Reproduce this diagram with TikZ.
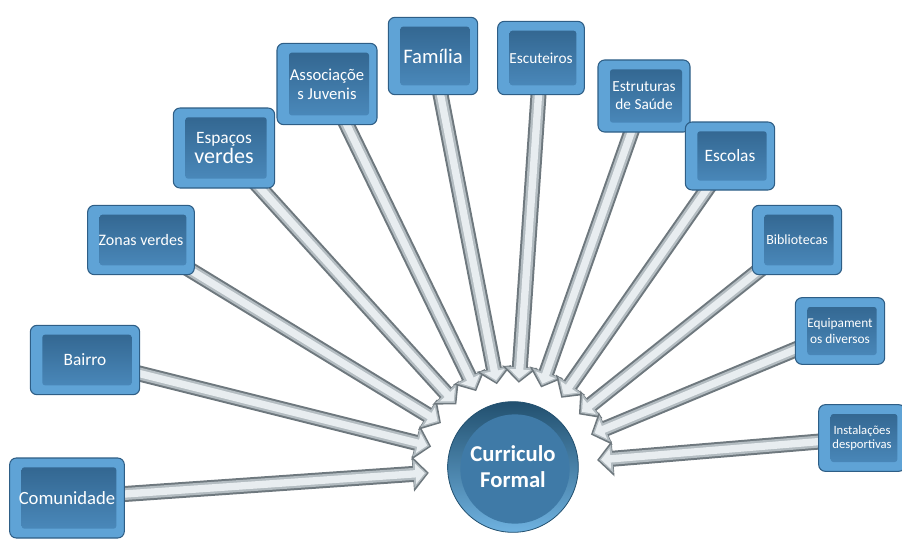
\documentclass[tikz,border=0pt]{standalone}
\usepackage{fontspec}
\setmainfont{Carlito}
\usetikzlibrary{arrows.meta,backgrounds}

\definecolor{tileout}{HTML}{5FA3D6}
\definecolor{tileedge}{HTML}{2E5E86}
\definecolor{facetop}{HTML}{30628B}
\definecolor{facebot}{HTML}{4D8DC0}
\definecolor{spokedark}{HTML}{6E787E}
\definecolor{spokemid}{HTML}{B3BCC1}
\definecolor{spokelight}{HTML}{E8EDF0}
\definecolor{ballface}{HTML}{3F7AA7}
\definecolor{balldark}{HTML}{22506F}
\definecolor{ballrim}{HTML}{6FB2E0}

\tikzset{
	tile/.style={rounded corners=5pt, fill=tileout, draw=tileedge, line width=0.8pt,
		text=white, align=center, inner sep=0pt,
		path picture={\shade[top color=facetop, bottom color=facebot, rounded corners=2pt]
			([shift={(9pt,7pt)}]path picture bounding box.south west) rectangle
			([shift={(-6pt,-7pt)}]path picture bounding box.north east);}},
	hub/.style={circle, minimum size=98pt, inner sep=0pt, top color=balldark, bottom color=ballrim,
		draw=balldark, line width=0.6pt, text=white, align=center,
		font=\bfseries\fontsize{17}{19.5}\selectfont,
		path picture={\fill[ballface] ([shift={(1.5pt,-1.5pt)}]path picture bounding box.center) circle (41pt);}},
	spoke/.style={line width=12pt, draw=spokedark, shorten <=-12pt, shorten >=14pt,
		-{Triangle[length=12pt, width=26pt]}},
	spokemid/.style={line width=9pt, draw=spokemid, shorten <=-12pt, shorten >=15.5pt,
		-{Triangle[length=10pt, width=21pt]}},
	spokeface/.style={line width=5.5pt, draw=spokelight, shorten <=-12pt, shorten >=17pt,
		-{Triangle[length=7pt, width=15pt]}}
}

\begin{document}
\begin{tikzpicture}[x=0.75pt, y=-0.75pt]
	\useasboundingbox (0,0) rectangle (902,542);

	% centre
	\node[hub] (cf) at (513,467) {Curriculo\\Formal};

	% boxes round the arc
	\node[tile, minimum width=86pt, minimum height=60pt, font=\fontsize{14}{16}\selectfont] (com) at (67,498) {Comunidade};
	\node[tile, minimum width=82pt, minimum height=52pt, font=\fontsize{13}{15}\selectfont] (bai) at (85,360) {Bairro};
	\node[tile, minimum width=80pt, minimum height=52pt, font=\fontsize{12}{14}\selectfont] (zon) at (141,240) {Zonas verdes};
	\node[tile, minimum width=76pt, minimum height=60pt, font=\fontsize{13}{15}\selectfont] (esp) at (224,148) {Espaços\\{\fontsize{16.5}{18}\selectfont verdes}};
	\node[tile, minimum width=75pt, minimum height=61pt, font=\fontsize{12.5}{14.5}\selectfont] (ass) at (327,84) {Associaçõe\\s Juvenis};
	\node[tile, minimum width=67pt, minimum height=58pt, font=\fontsize{15.5}{17}\selectfont] (fam) at (433,56) {Família};
	\node[tile, minimum width=65pt, minimum height=55pt, font=\fontsize{11.5}{13}\selectfont] (esc) at (541,58) {Escuteiros};
	\node[tile, minimum width=69pt, minimum height=54pt, font=\fontsize{11.5}{13.5}\selectfont] (est) at (644,96) {Estruturas\\de Saúde};
	\node[tile, minimum width=67pt, minimum height=51pt, font=\fontsize{13}{15}\selectfont] (scl) at (730,156) {Escolas};
	\node[tile, minimum width=67pt, minimum height=52pt, font=\fontsize{10.5}{12}\selectfont] (bib) at (797,240) {Bibliotecas};
	\node[tile, minimum width=67pt, minimum height=50pt, font=\fontsize{10}{11.5}\selectfont] (equ) at (840,331) {Equipament\\os diversos};
	\node[tile, minimum width=65pt, minimum height=50pt, font=\fontsize{9.5}{11}\selectfont] (ins) at (862,438) {Instalações\\desportivas};

	% arrows into the centre
	\begin{scope}[on background layer]
		\foreach \n in {com,bai,zon,esp,ass,fam,esc,est,scl,bib,equ,ins} {
			\draw[spoke] (\n) -- (cf);
			\draw[spokemid] (\n) -- (cf);
			\draw[spokeface] (\n) -- (cf);
		}
	\end{scope}
\end{tikzpicture}
\end{document}
